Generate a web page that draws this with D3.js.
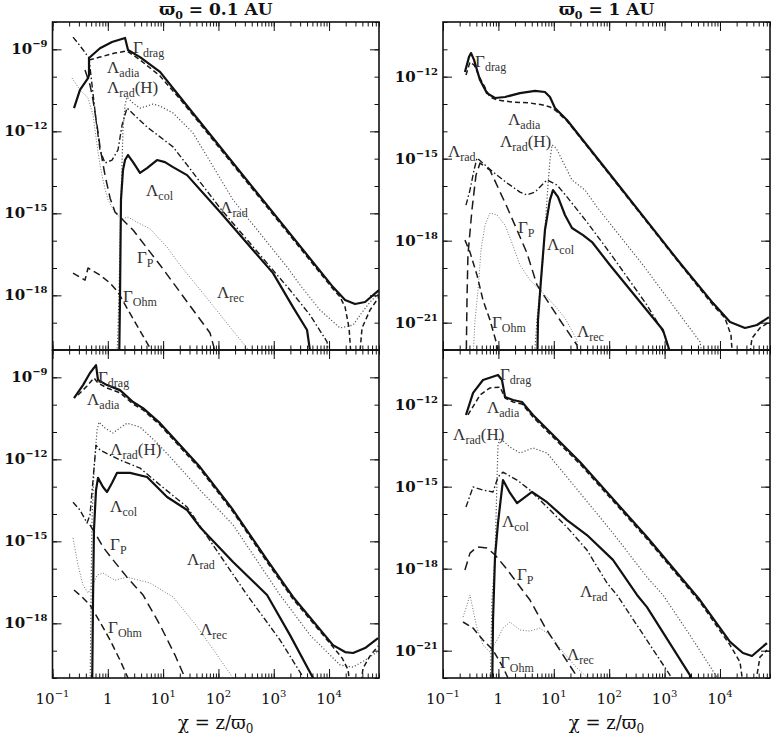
<!DOCTYPE html>
<html><head><meta charset="utf-8">
<script src="https://cdn.jsdelivr.net/npm/d3@7"></script>
<style>body{margin:0;background:#fff}svg{display:block}</style>
</head><body>
<svg id="c" width="771" height="739"></svg>
<script>
// ---------------- DATA ----------------
const titles = ["0.1 AU", "1 AU"];
const xTickVals = [0.1, 1, 10, 100, 1000, 10000];
const xTickText = [["10","−1"],["1",""],["10","1"],["10","2"],["10","3"],["10","4"]];
const yTicksLeft = [1e-9, 1e-12, 1e-15, 1e-18];
const yTicksLeftText = ["−9","−12","−15","−18"];
const yTicksRight = [1e-12, 1e-15, 1e-18, 1e-21];
const yTicksRightText = ["−12","−15","−18","−21"];

// top-left: varpi0 = 0.1 AU
const tlDrag = [[0.245,7.1e-12],[0.314,3.3e-11],[0.439,8.9e-11],[0.457,1.15e-10],[0.457,4.8e-10],[0.722,1.1e-9],[1.19,1.85e-9],[2.05,2.6e-9],[2.32,9.4e-10],[3.82,5.2e-10],[8.79,1.5e-10],[20.2,1.8e-11],[11800,2.0e-18],[19500,6.7e-19],[29500,4.8e-19],[44800,5.7e-19],[80000,1.56e-18]];
const tlAdia = [[0.457,4.1e-10],[0.722,5.2e-10],[1.35,7.3e-10],[2.22,8.7e-10],[2.86,6.2e-10],[3.82,4.1e-10],[8.79,1.06e-10],[20.2,1.52e-11],[11800,1.7e-18],[15800,8.7e-19],[19500,3.7e-19],[23000,6.4e-20],[26500,1e-21],[33000,1e-21],[39500,6.4e-20],[55100,2.9e-19],[80000,8.7e-19]];
const tlRadH = [[1.41,1e-21],[1.53,5.4e-20],[1.66,4.5e-17],[1.73,3.1e-15],[1.88,1.12e-12],[2.05,9.2e-12],[2.22,1.8e-11],[2.86,1.09e-11],[3.82,7.1e-12],[5.12,8.4e-12],[6.56,1.0e-11],[8.79,8.4e-12],[15.1,4.7e-12],[34.7,8.7e-13],[184,3.1e-15],[1740,1.09e-17],[2990,2.4e-18],[6870,2.9e-19],[15800,6.4e-20],[27200,8.2e-20],[36400,1.9e-19],[55100,5.7e-19],[80000,1.2e-18]];
const tlRad = [[0.235,2.8e-9],[0.327,1.22e-9],[0.457,4.8e-10],[0.518,5.0e-11],[0.612,2.6e-12],[0.722,2.1e-13],[0.889,6.9e-14],[1.19,8.9e-14],[1.53,2.1e-13],[1.81,1.7e-12],[2.22,7.1e-12],[5.12,1.44e-12],[15.1,2.7e-13],[27.1,5.9e-14],[46.5,1.4e-14],[107,1.56e-15],[565,3.0e-17],[1970,1.56e-18],[4530,1.9e-19],[9200,2.0e-20],[10900,1e-21]];
const tlCol = [[1.59,1e-21],[1.66,6.7e-19],[1.73,3.1e-15],[1.88,3.8e-14],[2.05,8.9e-14],[2.32,1.36e-13],[2.86,7.5e-14],[3.82,3.0e-14],[5.12,4.5e-14],[7.76,8.9e-14],[10.8,7.5e-14],[15.1,4.9e-14],[27.1,2.5e-14],[107,1.12e-15],[971,6.5e-18],[2230,3.7e-19],[4000,5.4e-20],[5300,1e-21]];
const tlRec = [[0.225,8.9e-11],[0.314,3.3e-11],[0.439,1.66e-11],[0.540,4.0e-12],[0.638,3.2e-13],[0.722,5.9e-14],[0.853,1.09e-14],[1.01,3.1e-15],[1.35,1.03e-15],[1.81,6.2e-16],[2.32,7.3e-16],[3.10,5.2e-16],[5.80,2.7e-16],[11.8,5.8e-17],[20.2,1.29e-17],[70.5,5.7e-19],[162,6.9e-20],[329,1.18e-20],[405,1e-21]];
const tlP = [[0.387,1.75e-10],[0.476,5.0e-11],[0.540,1.4e-11],[0.638,1.7e-12],[0.722,2.7e-13],[0.889,2.5e-14],[1.10,3.6e-15],[1.35,1.12e-15],[1.88,5.7e-16],[2.86,2.45e-16],[8.79,1.29e-17],[70.5,4.2e-20],[116,1e-21]];
const tlOhm = [[0.235,6.5e-18],[0.387,3.6e-18],[0.439,1.0e-17],[0.722,5.5e-18],[1.10,2.8e-18],[1.53,1.32e-18],[2.22,3.4e-19],[5.80,1.18e-20],[7.76,1e-21]];

// top-right: varpi0 = 1 AU
const trDrag = [[0.249,1.48e-12],[0.294,5.2e-12],[0.320,7.3e-12],[0.363,4.1e-12],[0.411,1.75e-12],[0.466,7.5e-13],[0.622,2.5e-13],[0.869,1.66e-13],[1.32,1.8e-13],[2.45,2.5e-13],[4.58,3.0e-13],[6.93,2.75e-13],[8.53,1.8e-13],[10.5,7.1e-14],[17.3,2.6e-14],[117,1.96e-16],[1900,1.52e-19],[7480,5.2e-21],[15200,1.05e-21],[28300,6.4e-22],[46600,8.2e-22],[76600,1.6e-21]];
const trAdia = [[0.260,1.15e-12],[0.307,3.4e-12],[0.363,2.7e-12],[0.466,8.9e-13],[0.705,1.8e-13],[0.944,1.4e-13],[1.84,1.18e-13],[3.72,1.09e-13],[6.38,9.2e-14],[8.53,7.8e-14],[10.5,6.0e-14],[17.3,2.4e-14],[117,1.8e-16],[1900,1.4e-19],[7480,4.4e-21],[12300,1.48e-21],[15800,3.5e-22],[17900,1e-23],[30700,1e-23],[37800,2.7e-22],[52700,6.4e-22],[76600,1.05e-21]];
const trRadH = [[4.21,1e-23],[4.97,1.25e-21],[5.63,1.56e-20],[6.38,1.96e-19],[6.93,2.45e-18],[7.86,1.09e-16],[8.53,8.9e-16],[9.29,3.2e-15],[11.0,2.45e-15],[14.1,8.9e-16],[21.3,1.66e-16],[36.6,7.1e-17],[60.2,1.7e-17],[407,1.29e-19],[4350,2.0e-22],[5590,1e-23]];
const trRad = [[0.260,2.0e-17],[0.307,7.1e-17],[0.363,3.8e-16],[0.411,1.06e-15],[0.573,5.9e-16],[0.800,3.25e-16],[1.43,1.29e-16],[2.45,6.0e-17],[3.28,4.7e-17],[4.58,6.0e-17],[5.63,9.2e-17],[7.54,1.66e-16],[11.4,1.09e-16],[17.3,4.0e-17],[39.7,4.8e-18],[117,2.5e-19],[481,4.4e-21],[1020,3.5e-22],[1540,1e-23]];
const trCol = [[4.97,1e-23],[5.19,1.25e-21],[5.87,3.6e-20],[6.93,2.45e-18],[8.53,3.1e-17],[9.68,7.1e-17],[11.9,4.0e-17],[15.9,8.7e-18],[21.3,2.9e-18],[33.7,1.6e-18],[49.0,8.9e-19],[103,1.29e-19],[935,5.4e-22],[1750,1e-23]];
const trRec = [[0.333,1e-23],[0.379,1.25e-21],[0.429,1.56e-20],[0.485,4.5e-19],[0.573,3.7e-18],[0.705,1.03e-17],[0.944,8.7e-18],[1.32,3.7e-18],[1.76,8.2e-19],[2.45,1.29e-19],[3.72,3.6e-20],[4.97,2.0e-20],[8.53,6.7e-21],[15.9,1.48e-21],[26.2,2.3e-22],[29.7,1e-23]];
const trP = [[0.260,1e-23],[0.271,6.7e-21],[0.282,3.0e-19],[0.333,1.32e-17],[0.394,2.5e-16],[0.466,6.9e-16],[0.705,3.8e-16],[1.43,1.7e-17],[2.17,2.45e-18],[3.28,3.5e-19],[4.97,2.4e-20],[12.9,1.25e-21],[26.2,1.52e-22],[29.7,1e-23]];
const trOhm = [[0.249,1.05e-18],[0.307,3.8e-19],[0.411,5.5e-20],[0.527,6.7e-21],[0.705,1.25e-21],[0.944,1.52e-22],[1.07,1e-23]];

// bottom-left: varpi0 = 0.1 AU (second model)
const blDrag = [[0.245,1.75e-10],[0.356,5.2e-10],[0.476,1.44e-9],[0.612,2.8e-9],[0.665,8.0e-10],[0.968,5.2e-10],[1.66,3.4e-10],[2.86,1.25e-10],[4.33,7.5e-11],[8.79,2.1e-11],[46.5,5.2e-13],[184,1.4e-14],[757,2.1e-16],[2230,9.2e-18],[11800,1.6e-19],[19500,8.9e-20],[27200,8.2e-20],[44800,1.25e-19],[76900,2.9e-19]];
const blAdia = [[0.289,2.25e-10],[0.421,4.8e-10],[0.562,9.4e-10],[0.665,6.2e-10],[0.968,4.1e-10],[1.66,2.7e-10],[2.86,1.06e-10],[4.33,6.4e-11],[8.79,1.8e-11],[46.5,4.4e-13],[184,1.18e-14],[757,1.75e-16],[2230,7.7e-18],[11800,1.36e-19],[17200,5.4e-20],[22100,2.0e-20],[26100,1e-21],[33400,1e-21],[41200,2.3e-20],[55100,6.4e-20],[76900,1.48e-19]];
const blRadH = [[0.476,1e-21],[0.497,7.1e-18],[0.518,6.0e-15],[0.562,4.1e-13],[0.638,1.18e-11],[0.693,2.3e-11],[0.889,1.4e-11],[1.24,9.2e-12],[1.66,1.4e-11],[2.22,2.1e-11],[3.82,1.52e-11],[7.76,4.0e-12],[15.1,9.4e-13],[46.5,7.5e-14],[184,4.0e-15],[1300,1.09e-17],[4530,3.7e-19],[15800,3.0e-20],[27200,2.5e-20],[44800,4.5e-20],[73800,8.9e-20]];
const blRad = [[0.235,2.7e-14],[0.314,1.4e-14],[0.421,4.7e-15],[0.476,9.2e-15],[0.540,1.75e-13],[0.612,3.3e-12],[0.722,2.2e-12],[1.66,9.4e-13],[3.82,4.8e-13],[8.79,1.15e-13],[27.1,1.8e-14],[79.8,7.3e-16],[329,1.09e-17],[1300,2.45e-19],[3390,1.08e-20],[3840,1e-21]];
const blCol = [[0.518,1e-21],[0.540,7.1e-18],[0.562,2.6e-15],[0.612,7.5e-14],[0.665,2.1e-13],[0.819,9.7e-14],[0.968,6.4e-14],[1.19,1.36e-13],[1.47,3.2e-13],[2.52,3.2e-13],[5.12,2.25e-13],[11.8,4.2e-14],[27.1,1.4e-14],[46.5,3.3e-15],[184,1.75e-16],[757,1.09e-17],[1970,3.7e-19],[5140,1.0e-20],[5590,1e-21]];
const blRec = [[0.235,1.32e-15],[0.289,1.36e-16],[0.356,2.5e-17],[0.439,1.29e-17],[0.540,2.5e-17],[0.638,5.8e-17],[0.819,6.9e-17],[1.35,3.8e-17],[2.22,4.9e-17],[5.80,3.0e-17],[15.1,9.2e-18],[37.8,9.4e-19],[86.9,8.9e-20],[184,1.0e-20],[208,1e-21]];
const blP = [[0.476,4.0e-15],[0.587,2.0e-15],[0.819,6.2e-16],[1.24,2.1e-16],[2.22,4.9e-17],[4.33,1.09e-17],[8.79,8.7e-19],[16.4,6.9e-20],[24.9,1.0e-20],[28.2,1e-21]];
const blOhm = [[0.245,1.65e-17],[0.341,9.2e-18],[0.476,4.7e-18],[0.722,1.12e-18],[1.10,2.45e-19],[1.66,4.5e-20],[2.32,1.0e-20],[2.63,1e-21]];

// bottom-right: varpi0 = 1 AU (second model)
const brDrag = [[0.260,4.2e-13],[0.349,2.7e-12],[0.527,8.0e-12],[0.984,1.22e-11],[1.16,8.0e-12],[1.32,1.9e-12],[1.84,1.48e-12],[2.67,1.25e-12],[4.21,4.2e-13],[29.7,8.0e-15],[481,1.44e-17],[4350,7.1e-20],[15200,2.1e-21],[26000,8.2e-22],[37800,6.4e-22],[70500,1.9e-21]];
const brAdia = [[0.282,4.2e-13],[0.466,2.25e-12],[0.705,4.1e-12],[1.07,4.4e-12],[1.32,1.75e-12],[1.84,1.25e-12],[2.67,1.06e-12],[4.21,3.5e-13],[29.7,6.7e-15],[481,1.22e-17],[4350,6.0e-20],[15200,1.6e-21],[23000,3.8e-22],[29400,1e-23],[37800,1e-23],[52700,5.8e-22],[70500,1.05e-21]];
const brRadH = [[0.705,1e-23],[0.766,7.1e-20],[0.869,2.7e-18],[0.944,1.75e-15],[0.984,3.3e-14],[1.07,6.0e-14],[1.62,2.8e-14],[2.45,1.7e-14],[4.21,2.6e-14],[7.54,1.7e-14],[17.3,2.25e-15],[29.7,5.9e-16],[117,2.0e-17],[481,4.9e-19],[935,1.09e-19],[2870,3.7e-21],[8830,1.08e-22],[10000,1e-23]];
const brRad = [[0.260,1.8e-16],[0.349,9.7e-16],[0.527,7.5e-16],[0.800,6.4e-16],[0.984,2.25e-15],[1.21,3.4e-15],[2.17,1.75e-15],[3.72,7.5e-16],[7.54,1.8e-16],[17.3,3.3e-17],[39.7,4.8e-18],[91.2,3.0e-19],[138,1.09e-19],[1250,1.28e-22],[1360,1e-23]];
const brCol = [[0.766,1e-23],[0.800,1.32e-20],[0.869,2.7e-18],[0.984,4.7e-17],[1.21,1.75e-15],[1.62,5.9e-16],[2.17,2.5e-16],[4.04,6.4e-16],[7.54,2.7e-16],[17.3,6.0e-17],[39.7,1.7e-17],[117,2.1e-18],[318,1.09e-19],[481,3.9e-20],[2870,1.28e-22],[3130,1e-23]];
const brRec = [[0.230,1.7e-20],[0.271,4.7e-20],[0.307,1.09e-19],[0.349,3.1e-20],[0.411,6.7e-21],[0.527,1.6e-21],[0.705,8.9e-22],[0.944,2.45e-21],[1.21,6.7e-21],[1.62,1.12e-20],[2.45,5.7e-21],[3.72,5.2e-21],[5.63,6.7e-21],[8.53,3.7e-21],[14.7,8.9e-22],[26.2,2.3e-22],[41.4,1.0e-22],[49.0,1e-23]];
const brP = [[0.249,8.9e-19],[0.307,3.7e-18],[0.411,6.2e-18],[0.622,5.7e-18],[0.869,3.2e-18],[1.32,1.15e-18],[2.0,3.8e-19],[3.72,7.1e-20],[6.93,7.3e-21],[14.7,6.9e-22],[27.3,1.0e-22],[32.3,1e-23]];
const brOhm = [[0.230,1.12e-20],[0.349,6.7e-21],[0.527,2.45e-21],[0.800,1.05e-21],[1.21,2.5e-22],[1.49,1.0e-22],[1.62,1e-23]];

// curve label anchors (data coordinates): [Greek, subscript, suffix, x, y]
const tlLabels = [["Γ","drag","",2.86,7.3e-10],["Λ","adia","",0.968,1.36e-10],["Λ","rad","(H)",0.968,2.5e-11],["Λ","col","",4.91,4.3e-15],["Λ","rad","",107,1.03e-15],["Γ","P","",3.37,1.52e-17],["Λ","rec","",94.4,8.0e-19],["Γ","Ohm","",1.88,5.7e-19]];
const trLabels = [["Γ","drag","",0.379,2.25e-12],["Λ","adia","",1.49,1.7e-14],["Λ","rad","(H)",1.07,2.7e-15],["Λ","rad","",0.123,1.15e-15],["Γ","P","",2.26,1.9e-18],["Λ","col","",7.54,4.5e-19],["Γ","Ohm","",0.766,6.4e-22],["Λ","rec","",26.2,3.0e-22]];
const blLabels = [["Γ","drag","",0.665,6.2e-10],["Λ","adia","",0.421,9.7e-11],["Λ","rad","(H)",1.10,1.44e-12],["Λ","col","",1.10,1.18e-14],["Γ","P","",1.10,4.8e-16],["Λ","rad","",27.1,1.36e-16],["Γ","Ohm","",1.01,4.4e-19],["Λ","rec","",46.5,3.7e-19]];
const brLabels = [["Γ","drag","",1.07,8.0e-12],["Λ","adia","",0.622,5.0e-13],["Λ","rad","(H)",0.152,5.1e-14],["Λ","col","",1.16,3.3e-17],["Γ","P","",2.17,3.8e-19],["Λ","rad","",29.7,9.2e-20],["Γ","Ohm","",1.07,2.3e-22],["Λ","rec","",17.3,4.5e-22]];

// ---------------- STYLE / LAYOUT ----------------
const seriesOrder = ["rec","radH","Ohm","P","rad","col","adia","drag"];
const styles = {
  drag:{w:2.2, dash:null, c:"#111"},
  adia:{w:1.5, dash:"5,3", c:"#1a1a1a"},
  radH:{w:1.2, dash:"1.2,2", c:"#555"},
  rad:{w:1.4, dash:"6,2.5,1.5,2.5", c:"#1a1a1a"},
  col:{w:2.2, dash:null, c:"#111"},
  P:{w:1.5, dash:"9,5", c:"#1a1a1a"},
  Ohm:{w:1.5, dash:"7,4", c:"#1a1a1a"},
  rec:{w:1.0, dash:"1,1.8", c:"#777"}
};
const panels = [
  {x0:52.5,x1:379,y0:22,y1:350,yDom:[1e-20,1e-8],yt:yTicksLeft,ytt:yTicksLeftText,showX:false,title:titles[0],
   s:{drag:tlDrag,adia:tlAdia,radH:tlRadH,rad:tlRad,col:tlCol,rec:tlRec,P:tlP,Ohm:tlOhm},labels:tlLabels},
  {x0:443,x1:770,y0:22,y1:350,yDom:[1e-22,1e-10],yt:yTicksRight,ytt:yTicksRightText,showX:false,title:titles[1],
   s:{drag:trDrag,adia:trAdia,radH:trRadH,rad:trRad,col:trCol,rec:trRec,P:trP,Ohm:trOhm},labels:trLabels},
  {x0:52.5,x1:379,y0:350,y1:678,yDom:[1e-20,1e-8],yt:yTicksLeft,ytt:yTicksLeftText,showX:true,
   s:{drag:blDrag,adia:blAdia,radH:blRadH,rad:blRad,col:blCol,rec:blRec,P:blP,Ohm:blOhm},labels:blLabels},
  {x0:443,x1:770,y0:350,y1:678,yDom:[1e-22,1e-10],yt:yTicksRight,ytt:yTicksRightText,showX:true,
   s:{drag:brDrag,adia:brAdia,radH:brRadH,rad:brRad,col:brCol,rec:brRec,P:brP,Ohm:brOhm},labels:brLabels}
];
const tickFont = "'DejaVu Serif', serif";
const labFont = "'Liberation Serif', 'DejaVu Serif', serif";

const svg = d3.select("#c");
const defs = svg.append("defs");

panels.forEach((p,i)=>{
  const x = d3.scaleLog().domain([0.1, 8e4]).range([p.x0, p.x1]);
  const y = d3.scaleLog().domain(p.yDom).range([p.y1, p.y0]);
  const g = svg.append("g");
  defs.append("clipPath").attr("id","clip"+i).append("rect")
    .attr("x",p.x0).attr("y",p.y0).attr("width",p.x1-p.x0).attr("height",p.y1-p.y0);

  const line = d3.line().x(d=>x(d[0])).y(d=>y(d[1]));
  const gl = g.append("g").attr("clip-path",`url(#clip${i})`);
  seriesOrder.forEach(k=>{
    const st = styles[k];
    gl.append("path").datum(p.s[k]).attr("d",line)
      .attr("fill","none").attr("stroke",st.c).attr("stroke-width",st.w)
      .attr("stroke-dasharray",st.dash).attr("stroke-linejoin","round");
  });

  // ticks via d3 axes (inward)
  const xAll = x.ticks(); const xMaj = xAll.filter(v=>Math.abs(Math.log10(v)-Math.round(Math.log10(v)))<1e-9);
  const yAll = d3.range(Math.round(Math.log10(p.yDom[0])), Math.round(Math.log10(p.yDom[1]))+1).map(e=>Math.pow(10,e));
  const yMaj = p.yt;
  const clean = s=>s.call(a=>a.select(".domain").remove()).call(a=>a.selectAll("line").attr("stroke","#111").attr("stroke-width",1));
  const mk = (axis, vals, size, tr)=> g.append("g").attr("transform",tr).call(axis.tickValues(vals).tickSize(-size).tickFormat("")).call(clean);
  mk(d3.axisBottom(x), xAll, 4.5, `translate(0,${p.y1})`);
  mk(d3.axisBottom(x), xMaj, 9, `translate(0,${p.y1})`);
  mk(d3.axisTop(x), xAll, 4.5, `translate(0,${p.y0})`);
  mk(d3.axisTop(x), xMaj, 9, `translate(0,${p.y0})`);
  mk(d3.axisLeft(y), yAll, 4.5, `translate(${p.x0},0)`);
  mk(d3.axisLeft(y), yMaj, 9, `translate(${p.x0},0)`);
  mk(d3.axisRight(y), yAll, 4.5, `translate(${p.x1},0)`);
  mk(d3.axisRight(y), yMaj, 9, `translate(${p.x1},0)`);

  // frame
  g.append("rect").attr("x",p.x0).attr("y",p.y0).attr("width",p.x1-p.x0).attr("height",p.y1-p.y0)
    .attr("fill","none").attr("stroke","#111").attr("stroke-width",1.6);

  // y tick labels
  p.yt.forEach((v,j)=>{
    const t = g.append("text").attr("x",p.x0-5).attr("y",y(v)+5).attr("text-anchor","end")
      .attr("font-family",tickFont).attr("font-weight","bold").attr("font-size",15).attr("fill","#111");
    t.append("tspan").text("10");
    t.append("tspan").attr("dy",-7).attr("font-size",10).text(p.ytt[j]);
  });

  // x tick labels
  if(p.showX){
    xTickVals.forEach((v,j)=>{
      const t = g.append("text").attr("x",x(v)).attr("y",704).attr("text-anchor","middle")
        .attr("font-family",tickFont).attr("font-size",15).attr("fill","#111");
      t.append("tspan").text(xTickText[j][0]);
      if(xTickText[j][1]) t.append("tspan").attr("dy",-7).attr("font-size",10).text(xTickText[j][1]);
    });
    const t = g.append("text").attr("x",(p.x0+p.x1)/2).attr("y",729).attr("text-anchor","middle")
      .attr("font-family",tickFont).attr("font-size",18).attr("fill","#111");
    t.append("tspan").text("χ = z/ϖ");
    t.append("tspan").attr("dy",4).attr("font-size",12).text("0");
  }
  if(p.title){
    const t = g.append("text").attr("x",(p.x0+p.x1)/2).attr("y",15).attr("text-anchor","middle")
      .attr("font-family",tickFont).attr("font-weight","bold").attr("font-size",17).attr("fill","#111");
    t.append("tspan").text("ϖ");
    t.append("tspan").attr("dy",4).attr("font-size",11).text("0");
    t.append("tspan").attr("dy",-4).text(" = " + p.title);
  }

  // curve labels
  p.labels.forEach(L=>{
    const t = g.append("text").attr("x",x(L[3])).attr("y",y(L[4]))
      .attr("font-family",labFont).attr("font-size",17).attr("fill","#333");
    t.append("tspan").text(L[0]);
    t.append("tspan").attr("dy",4).attr("font-size",12).text(L[1]);
    if(L[2]) t.append("tspan").attr("dy",-4).attr("font-size",17).text(L[2]);
  });
});
</script>
</body></html>
